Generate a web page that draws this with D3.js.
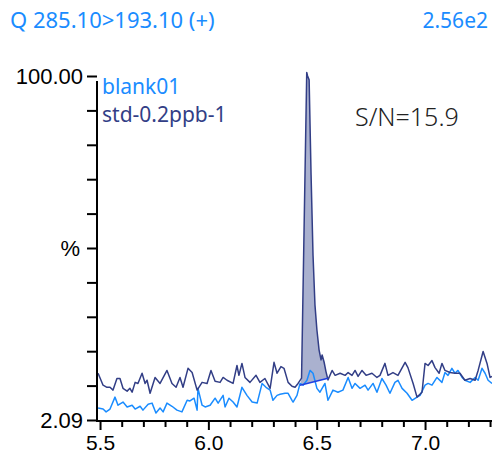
<!DOCTYPE html>
<html>
<head>
<meta charset="utf-8">
<script src="https://cdn.jsdelivr.net/npm/d3@7"></script>
<style>
  body { margin: 0; background: #fff; }
  svg { display: block; font-family: "Noto Sans", "Open Sans", sans-serif; }
</style>
</head>
<body>
<svg id="chart" width="492" height="457"></svg>
<script>
"use strict";

// [retention time (min), intensity (%)]
var blankTrace = [
  [5.491,5.5],[5.514,5.2],[5.528,4.4],[5.546,5.2],[5.569,8.6],[5.583,6.3],[5.606,7.2],[5.625,5.8],
  [5.648,6.3],[5.662,5.2],[5.685,6.0],[5.698,4.9],[5.722,6.6],[5.740,6.9],[5.758,4.1],[5.777,5.5],
  [5.791,4.4],[5.809,6.9],[5.832,6.0],[5.855,4.9],[5.878,4.4],[5.902,7.7],[5.915,7.5],[5.934,8.3],
  [5.948,4.9],[5.952,11.1],[5.971,6.3],[5.985,5.8],[6.008,6.3],[6.031,8.3],[6.045,6.9],[6.068,9.1],
  [6.077,5.8],[6.095,8.3],[6.114,7.2],[6.132,5.8],[6.155,11.4],[6.178,9.1],[6.202,7.2],[6.225,6.9],
  [6.248,12.5],[6.266,11.4],[6.285,10.6],[6.298,7.7],[6.317,9.1],[6.331,9.4],[6.354,9.7],[6.368,9.7],
  [6.386,7.7],[6.391,7.2],[6.409,9.1],[6.423,12.5],[6.437,12.0],[6.455,13.4],[6.469,16.2],[6.483,15.4],
  [6.501,11.1],[6.515,10.0],[6.538,12.5],[6.552,7.7],[6.575,10.6],[6.598,10.0],[6.621,10.6],[6.645,14.2],
  [6.663,11.1],[6.677,12.5],[6.700,11.1],[6.723,12.0],[6.737,10.6],[6.760,12.5],[6.778,10.0],[6.801,13.9],
  [6.820,12.0],[6.838,9.7],[6.861,12.8],[6.875,13.4],[6.894,11.1],[6.917,9.7],[6.940,7.7],[6.963,8.6],
  [6.977,9.1],[7.000,12.0],[7.014,12.5],[7.032,12.0],[7.055,14.2],[7.078,12.8],[7.092,15.6],[7.106,14.8],
  [7.124,16.8],[7.138,15.4],[7.152,16.2],[7.171,14.2],[7.184,13.4],[7.208,12.8],[7.231,14.2],[7.245,13.4],
  [7.263,16.8],[7.277,15.4],[7.291,13.4],[7.309,12.5]
];

var stdTrace = [
  [5.491,15.4],[5.514,12.0],[5.532,11.4],[5.546,11.4],[5.560,10.6],[5.578,13.9],[5.592,13.9],[5.606,11.1],
  [5.625,10.3],[5.638,11.1],[5.648,10.0],[5.662,12.8],[5.675,12.5],[5.694,15.4],[5.708,12.5],[5.717,13.4],
  [5.731,9.7],[5.754,14.2],[5.777,12.5],[5.809,16.2],[5.832,12.5],[5.851,11.4],[5.869,14.2],[5.883,11.4],
  [5.906,16.8],[5.925,15.6],[5.948,10.6],[5.971,12.8],[5.994,12.5],[6.012,16.2],[6.031,13.1],[6.054,12.8],
  [6.068,14.2],[6.086,13.4],[6.114,12.5],[6.132,17.6],[6.141,14.8],[6.155,18.2],[6.169,14.2],[6.192,12.8],
  [6.220,14.8],[6.238,12.8],[6.261,13.9],[6.285,11.1],[6.303,18.5],[6.317,15.4],[6.335,17.3],[6.349,16.8],
  [6.368,12.8],[6.386,11.7],[6.400,11.4],[6.414,12.5],
  [6.430,14.0],[6.454,101.0],[6.458,100.0],[6.465,98.9],[6.474,71.8],[6.483,49.0],[6.492,34.8],[6.501,27.7],
  [6.511,22.0],[6.520,19.2],[6.525,20.6],[6.534,18.6],[6.543,15.8],[6.552,13.5],
  [6.571,16.2],[6.585,14.8],[6.608,15.4],[6.631,14.8],[6.645,15.6],[6.663,14.8],[6.677,16.2],[6.691,14.5],
  [6.709,16.2],[6.728,14.8],[6.755,15.4],[6.778,14.2],[6.792,14.8],[6.815,18.2],[6.829,14.8],[6.852,15.6],
  [6.875,14.8],[6.908,18.5],[6.921,17.0],[6.945,12.5],[6.963,8.6],[6.986,10.0],[7.000,18.2],[7.014,17.6],
  [7.032,19.0],[7.046,17.0],[7.065,15.4],[7.078,18.2],[7.092,16.2],[7.115,15.6],[7.138,15.4],[7.161,15.4],
  [7.184,13.4],[7.208,13.9],[7.231,13.4],[7.245,16.2],[7.268,21.6],[7.286,18.2],[7.300,14.2],[7.309,14.5]
];

// integration baseline of the std peak: start and end [time, %]
var peakBaseline = [[6.423, 12.0], [6.552, 14.0]];

var seriesNames = ["blank01", "std-0.2ppb-1"];
var xMajorTicks = [5.5, 6.0, 6.5, 7.0];
var xMinorTicks = [5.6, 5.7, 5.8, 5.9, 6.1, 6.2, 6.3, 6.4, 6.6, 6.7, 6.8, 6.9, 7.1, 7.2, 7.3];
var yRange = [2.09, 100.00];
var titleText = "Q 285.10>193.10 (+)";
var scaleText = "2.56e2";
var snText = "S/N=15.9";

var BLUE = "#1a8cff";
var NAVY = "#323e86";

var svg = d3.select("#chart");

var x = d3.scaleLinear().domain([5.486, 7.309]).range([97, 492]);
var y = d3.scaleLinear().domain(yRange).range([420, 76]);

var line = d3.line()
  .x(function (d) { return x(d[0]); })
  .y(function (d) { return y(d[1]); });

// header
svg.append("text")
  .attr("x", 10).attr("y", 28)
  .attr("font-size", 22).attr("fill", BLUE)
  .text(titleText);
svg.append("text")
  .attr("x", 488).attr("y", 28)
  .attr("text-anchor", "end")
  .attr("font-size", 21).attr("fill", BLUE)
  .text(scaleText);

svg.append("clipPath").attr("id", "plot-clip")
  .append("rect").attr("x", 98).attr("y", 40).attr("width", 394).attr("height", 381);

var plot = svg.append("g").attr("clip-path", "url(#plot-clip)");

// peak area between trace and baseline
var b0 = peakBaseline[0], b1 = peakBaseline[1];
var peakPoly = [b0].concat(stdTrace.filter(function (d) { return d[0] > b0[0] && d[0] < b1[0]; }), [b1]);
plot.append("path")
  .attr("d", line(peakPoly) + "Z")
  .attr("fill", "#aab1cf")
  .attr("stroke", "none");

plot.append("path")
  .attr("d", line(blankTrace))
  .attr("fill", "none")
  .attr("stroke", BLUE)
  .attr("stroke-width", 1.5)
  .attr("stroke-linejoin", "round");

plot.append("path")
  .attr("d", line(stdTrace))
  .attr("fill", "none")
  .attr("stroke", NAVY)
  .attr("stroke-width", 1.5)
  .attr("stroke-linejoin", "round");

plot.append("path")
  .attr("d", line(peakBaseline))
  .attr("fill", "none")
  .attr("stroke", "#1f3fe0")
  .attr("stroke-width", 1.5);

// y axis: 11 ticks, labels at both ends and "%" in the middle
var yAxis = d3.axisLeft(y)
  .tickValues(d3.range(0, 11).map(function (i) { return yRange[0] + i * (yRange[1] - yRange[0]) / 10; }))
  .tickSize(10)
  .tickPadding(4)
  .tickFormat(function (d, i) { return i === 0 ? "2.09" : i === 10 ? "100.00" : i === 5 ? "%" : ""; });

var gy = svg.append("g").attr("transform", "translate(97,0)").call(yAxis);
gy.select(".domain").remove();
gy.selectAll(".tick line").attr("stroke", "#000").attr("stroke-width", 2);
gy.selectAll(".tick text").attr("font-size", 22).attr("fill", "#000").attr("font-family", null).attr("dy", "0.34em");
gy.selectAll(".tick text").filter(function (d, i) { return i === 5; }).attr("dx", -3);
gy.append("line").attr("x1", 0).attr("x2", 0).attr("y1", 81).attr("y2", 422)
  .attr("stroke", "#000").attr("stroke-width", 2);

// x axis
var gx = svg.append("g").attr("transform", "translate(0,421)");
gx.append("line").attr("x1", 96).attr("x2", 492).attr("y1", 0).attr("y2", 0)
  .attr("stroke", "#000").attr("stroke-width", 2);
gx.append("g").call(d3.axisBottom(x).tickValues(xMinorTicks).tickSize(6).tickFormat(""));
var gxMajor = gx.append("g").call(d3.axisBottom(x).tickValues(xMajorTicks).tickSize(9).tickPadding(5)
  .tickFormat(d3.format(".1f")));
gx.selectAll(".domain").remove();
gx.selectAll(".tick line").attr("stroke", "#000").attr("stroke-width", 2);
gxMajor.selectAll(".tick text").attr("font-size", 21).attr("fill", "#000").attr("font-family", null);

// legend
svg.append("text").attr("x", 102).attr("y", 94)
  .attr("font-size", 21).attr("fill", BLUE).text(seriesNames[0]);
svg.append("text").attr("x", 102).attr("y", 122)
  .attr("font-size", 21).attr("fill", NAVY).text(seriesNames[1]);

// signal to noise
svg.append("text").attr("x", 355).attr("y", 126)
  .attr("font-size", 25).attr("fill", "#222").attr("font-weight", 300).text(snText);
</script>
</body>
</html>
